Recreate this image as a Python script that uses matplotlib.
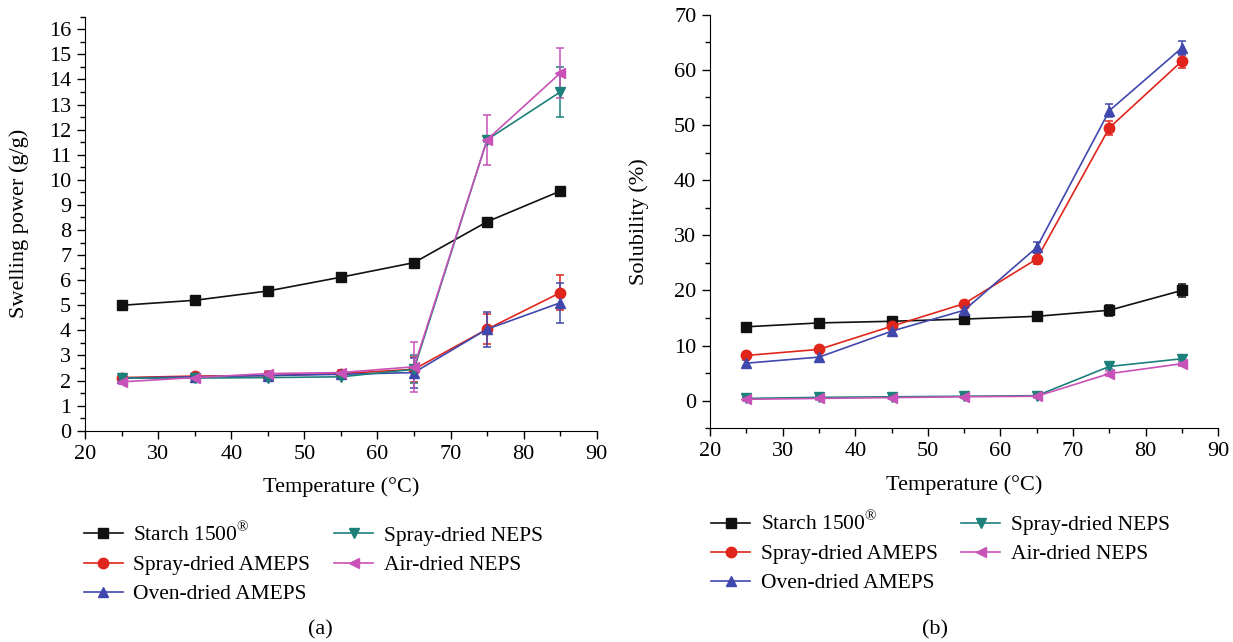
import matplotlib
matplotlib.use("Agg")
import matplotlib.pyplot as plt
from matplotlib.lines import Line2D
from matplotlib.ticker import MultipleLocator

plt.rcParams['font.family'] = ['Liberation Serif', 'DejaVu Serif']
plt.rcParams['mathtext.fontset'] = 'custom'
plt.rcParams['mathtext.rm'] = 'Liberation Serif'

temps = [25, 35, 45, 55, 65, 75, 85]
names = [r"Starch 1500$^{\mathrm{®}}$", "Spray-dried AMEPS", "Oven-dried AMEPS",
         "Spray-dried NEPS", "Air-dried NEPS"]
colors = ["#111111", "#e0261c", "#4047ad", "#1d807a", "#c852b8"]
markers = ["s", "o", "^", "v", "<"]

# swelling power (g/g)
swell = [
    [5.0, 5.2, 5.57, 6.12, 6.7, 8.33, 9.55],
    [2.12, 2.18, 2.2, 2.28, 2.45, 4.05, 5.5],
    [2.1, 2.15, 2.2, 2.25, 2.32, 4.05, 5.1],
    [2.1, 2.1, 2.12, 2.15, 2.45, 11.6, 13.5],
    [1.95, 2.12, 2.28, 2.32, 2.55, 11.6, 14.25],
]
swell_err = [
    [0.05, 0.05, 0.05, 0.05, 0.05, 0.05, 0.05],
    [0.1, 0.1, 0.1, 0.1, 0.5, 0.6, 0.7],
    [0.1, 0.1, 0.1, 0.1, 0.6, 0.7, 0.8],
    [0.1, 0.1, 0.1, 0.1, 0.55, 0.1, 1.0],
    [0.1, 0.1, 0.1, 0.1, 1.0, 1.0, 1.0],
]

# solubility (%)
solub = [
    [13.4, 14.1, 14.4, 14.8, 15.3, 16.4, 20.0],
    [8.2, 9.3, 13.5, 17.6, 25.7, 49.5, 61.6],
    [6.8, 7.9, 12.6, 16.4, 27.8, 52.6, 64.0],
    [0.4, 0.6, 0.7, 0.8, 0.9, 6.2, 7.6],
    [0.25, 0.4, 0.55, 0.7, 0.8, 4.9, 6.7],
]
solub_err = [
    [0.6, 0.6, 0.6, 0.7, 0.7, 1.0, 1.2],
    [0.5, 0.5, 0.5, 0.5, 1.0, 1.3, 1.3],
    [0.6, 0.7, 0.8, 0.7, 1.0, 1.2, 1.3],
    [0.3, 0.3, 0.3, 0.3, 0.3, 0.4, 0.4],
    [0.3, 0.3, 0.3, 0.3, 0.3, 0.4, 0.4],
]

fig = plt.figure(figsize=(12.33, 6.42), dpi=100)
ax1 = fig.add_axes([0.069, 0.329, 0.415, 0.645])
ax2 = fig.add_axes([0.576, 0.333, 0.412, 0.644])


def draw(ax, data, errs, legend_x, legend_y):
    for i in range(len(names)):
        ax.errorbar(temps, data[i], yerr=errs[i], color=colors[i], marker=markers[i],
                    markersize=7.5, linewidth=1.2, capsize=3, elinewidth=1.1,
                    capthick=1.1)
    ax.spines['top'].set_visible(False)
    ax.spines['right'].set_visible(False)
    ax.set_xlim(20, 90)
    ax.xaxis.set_major_locator(MultipleLocator(10))
    ax.xaxis.set_minor_locator(MultipleLocator(5))
    ax.tick_params(which='major', length=6, width=1.0, labelsize=16, pad=4)
    ax.tick_params(which='minor', length=3.5, width=1.0)
    ax.set_xlabel("Temperature (°C)", fontsize=16, labelpad=10)
    handles = [Line2D([], [], color=colors[i], marker=markers[i], markersize=7.5,
                      linewidth=1.2) for i in range(len(names))]
    ax.legend(handles, names, loc='upper left', bbox_to_anchor=(legend_x, legend_y),
              ncol=2, frameon=False, fontsize=15.5, handlelength=1.8,
              columnspacing=1.1, labelspacing=0.42, handletextpad=0.5)


draw(ax1, swell, swell_err, -0.04, -0.175)
ax1.set_ylim(0, 16.5)
ax1.yaxis.set_major_locator(MultipleLocator(1))
ax1.yaxis.set_minor_locator(MultipleLocator(0.5))
ax1.set_ylabel("Swelling power (g/g)", fontsize=16, labelpad=14)

draw(ax2, solub, solub_err, -0.036, -0.155)
ax2.set_ylim(-5, 70)
ax2.yaxis.set_major_locator(MultipleLocator(10))
ax2.yaxis.set_minor_locator(MultipleLocator(5))
ax2.set_ylabel("Solubility (%)", fontsize=16, labelpad=18)

fig.text(0.26, 0.012, "(a)", ha='center', fontsize=16)
fig.text(0.758, 0.012, "(b)", ha='center', fontsize=16)

fig.savefig("out.png", dpi=100)
